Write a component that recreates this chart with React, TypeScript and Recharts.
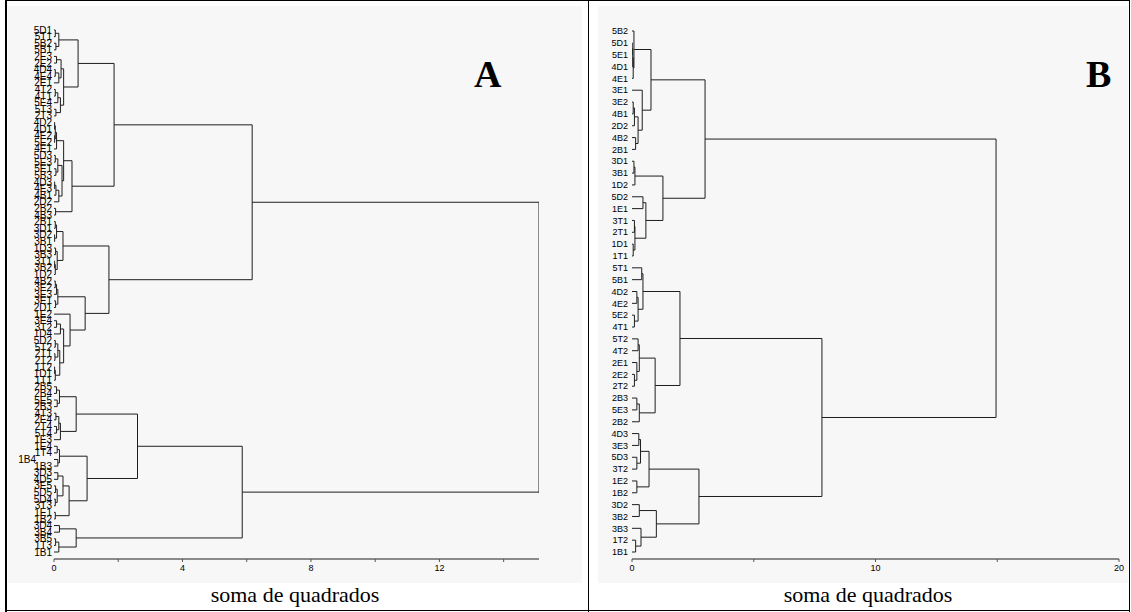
import React from "react";
import { LineChart, Line, XAxis, YAxis } from "recharts";

type Node = string | [Node, Node, number];

// panel A: clusters (leaf, leaf, height in soma de quadrados)
const a1: Node = [["5D1", "5T1", 0.04], ["5B2", "5B1", 0.06], 0.15];
const a2: Node = [
  [["2E3", "2E2", 0.08], [["4D4", "4E4", 0.04], "2E1", 0.15], 0.22],
  [[["4T2", "4T1", 0.04], "5E4", 0.12], ["5T3", "2T3", 0.06], 0.2],
  0.3,
];
const a3: Node = [
  [[["4D2", "4D1", 0.02], ["4E2", "5E2", 0.02], 0.04], "4E1", 0.08],
  [
    [["5D3", "5E3", 0.04], ["5E1", "5B3", 0.06], 0.12],
    [[["4D3", "4E3", 0.02], "4B1", 0.06], "2D2", 0.15],
    0.25,
  ],
  0.3,
];
const a4: Node = ["2B2", "4B3", 0.05];
const a5: Node = [
  [["2B1", "3D1", 0.04], ["3D2", "3B1", 0.02], 0.08],
  [["1D3", "3B3", 0.05], [["3T1", "3B2", 0.02], "1D2", 0.04], 0.1],
  0.28,
];
const a6: Node = [[["4B2", "3E2", 0.04], "3E3", 0.08], ["3E1", "2D1", 0.05], 0.12];
const a7: Node = [
  "1E2",
  [
    [["3E4", "3T2", 0.08], "1D4", 0.2],
    [
      [["5D2", "5T2", 0.04], ["2T1", "2T2", 0.03], 0.12],
      [["1T2", "1D1", 0.02], "1T1", 0.04],
      0.18,
    ],
    0.3,
  ],
  0.5,
];
const a8: Node = [
  [["2B5", "2B4", 0.08], ["5E5", "2B3", 0.1], 0.17],
  [[["4T3", "2E4", 0.06], ["2T4", "5T4", 0.08], 0.15], "1E3", 0.2],
  0.69,
];
const a9: Node = [
  [["1E4", "1T4", 0.1], ["1B4", "1B3", 0.12], 0.17],
  [
    [["3D3", "4D5", 0.12], [["3E5", "5D5", 0.05], ["5D4", "3T3", 0.04], 0.1], 0.28],
    ["1E1", "1B2", 0.04],
    0.47,
  ],
  1.03,
];
const a10: Node = [["3D4", "3B4", 0.17], [["3B5", "1T3", 0.05], "1B1", 0.15], 0.69];

const treeA: Node = [
  [
    [[a1, a2, 0.75], [a3, a4, 0.56], 1.87],
    [a5, [a6, a7, 0.97], 1.71],
    6.17,
  ],
  [[a8, a9, 2.6], a10, 5.86],
  15.1,
];

// label printed apart from the column in panel A
const shiftedA = ["1B4"];

// panel B
const b1: Node = ["5B2", [[["5D1", "5E1", 0.01], "4D1", 0.03], "4E1", 0.05], 0.08];
const b2: Node = [
  "3E1",
  [[["3E2", "4B1", 0.05], "2D2", 0.1], ["4B2", "2B1", 0.15], 0.25],
  0.42,
];
const b3: Node = [
  [["3D1", "3B1", 0.08], "1D2", 0.12],
  [["5D2", "1E1", 0.45], [["3T1", "2T1", 0.1], ["1D1", "1T1", 0.05], 0.12], 0.57],
  1.27,
];
const b4: Node = [["5T1", "5B1", 0.4], [["4D2", "4E2", 0.2], ["5E2", "4T1", 0.1], 0.25], 0.45];
const b5: Node = [
  [["5T2", "4T2", 0.25], ["2E1", ["2E2", "2T2", 0.1], 0.2], 0.3],
  [["2B3", "5E3", 0.2], "2B2", 0.3],
  0.95,
];
const b6: Node = [[["4D3", "3E3", 0.28], ["5D3", "3T2", 0.2], 0.35], ["1E2", "1B2", 0.2], 0.7];
const b7: Node = [["3D2", "3B2", 0.3], ["3B3", ["1T2", "1B1", 0.15], 0.37], 1.0];

const treeB: Node = [
  [[b1, b2, 0.78], b3, 3.0],
  [[b4, b5, 1.97], [b6, b7, 2.75], 7.8],
  14.95,
];

const ticksA = [0, 2, 4, 6, 8, 10, 12, 14];
const labelledA = [0, 4, 8, 12];
const ticksB = [0, 5, 10, 15, 20];
const labelledB = [0, 10, 20];

type Pt = { x: number; y: number };

function layout(root: Node) {
  const leaves: string[] = [];
  const links: Pt[][] = [];
  const walk = (n: Node): Pt => {
    if (typeof n === "string") {
      leaves.push(n);
      return { x: 0, y: leaves.length - 1 };
    }
    const a = walk(n[0]);
    const b = walk(n[1]);
    links.push([
      { x: a.x, y: a.y },
      { x: n[2], y: a.y },
      { x: n[2], y: b.y },
      { x: b.x, y: b.y },
    ]);
    return { x: n[2], y: (a.y + b.y) / 2 };
  };
  walk(root);
  return { leaves, links };
}

const sans = "'Liberation Sans', Arial, sans-serif";

function Dendro({
  tree,
  width,
  xMax,
  ticks,
  labelled,
  firstLeafY,
  axisY,
  axisWidth,
  rightMargin,
  labelSize,
  labelGap,
  shifted = [],
}: {
  tree: Node;
  width: number;
  xMax: number;
  ticks: number[];
  labelled: number[];
  firstLeafY: number;
  axisY: number;
  axisWidth: number;
  rightMargin: number;
  labelSize: number;
  labelGap: number;
  shifted?: string[];
}) {
  const { leaves, links } = layout(tree);
  const step = (552 - firstLeafY) / (leaves.length - 1);
  const top = firstLeafY - step;
  const yMax = (axisY - firstLeafY) / step;
  const height = 612;

  const leafTick = (p: any) => {
    const label = leaves[p.payload.value] ?? "";
    const dx = shifted.includes(label) ? -16 : 0;
    return (
      <text
        x={p.x + dx}
        y={p.y}
        dy="0.355em"
        textAnchor="end"
        fontSize={labelSize}
        fontFamily={sans}
        fill="#000"
      >
        {label}
      </text>
    );
  };

  return (
    <LineChart
      width={width}
      height={height}
      margin={{ top, right: rightMargin, bottom: height - axisY - 20, left: 0 }}
    >
      <XAxis
        type="number"
        dataKey="x"
        domain={[0, xMax]}
        allowDataOverflow
        ticks={ticks}
        interval={0}
        height={20}
        tickSize={3}
        tickMargin={3}
        stroke="#7a7a7a"
        axisLine={{ stroke: "#8a8a8a", strokeWidth: 2 }}
        tickLine={{ stroke: "#555" }}
        tick={{ fontSize: 9, fill: "#000", fontFamily: sans }}
        tickFormatter={(v: number) => (labelled.includes(v) ? String(v) : "")}
      />
      <YAxis
        type="number"
        dataKey="y"
        reversed
        domain={[-1, yMax]}
        allowDataOverflow
        ticks={leaves.map((_, i) => i)}
        interval={0}
        width={axisWidth}
        axisLine={false}
        tickLine={false}
        tickSize={0}
        tickMargin={labelGap}
        tick={leafTick}
      />
      {links.map((pts, i) => (
        <Line
          key={i}
          data={pts}
          dataKey="y"
          type="linear"
          stroke="#1e1e1e"
          strokeWidth={1}
          dot={false}
          activeDot={false}
          isAnimationActive={false}
        />
      ))}
    </LineChart>
  );
}

const serif = "'Liberation Serif', 'Times New Roman', serif";

export default function App() {
  return (
    <div
      style={{
        position: "absolute",
        left: 0,
        top: 0,
        width: 1131,
        height: 612,
        background: "#fff",
        overflow: "hidden",
      }}
    >
      <div style={{ position: "absolute", left: 8, top: 6, width: 574, height: 577, background: "#f7f7f7" }} />
      <div style={{ position: "absolute", left: 598, top: 6, width: 530, height: 577, background: "#f7f7f7" }} />
      <div style={{ position: "absolute", left: 0, top: 0 }}>
        <Dendro
          tree={treeA}
          width={588}
          xMax={15.1}
          ticks={ticksA}
          labelled={labelledA}
          firstLeafY={30}
          axisY={559}
          axisWidth={54}
          rightMargin={49}
          labelSize={10}
          labelGap={2}
          shifted={shiftedA}
        />
      </div>
      <div style={{ position: "absolute", left: 588, top: 0 }}>
        <Dendro
          tree={treeB}
          width={543}
          xMax={20}
          ticks={ticksB}
          labelled={labelledB}
          firstLeafY={31}
          axisY={559}
          axisWidth={44}
          rightMargin={12}
          labelSize={9}
          labelGap={4}
        />
      </div>
      <div style={{ position: "absolute", left: 474, top: 54, fontFamily: serif, fontWeight: "bold", fontSize: 38, lineHeight: "40px" }}>
        A
      </div>
      <div style={{ position: "absolute", left: 1086, top: 54, fontFamily: serif, fontWeight: "bold", fontSize: 38, lineHeight: "40px" }}>
        B
      </div>
      <div style={{ position: "absolute", left: 8, top: 584, width: 574, textAlign: "center", fontFamily: serif, fontSize: 22, lineHeight: "22px" }}>
        soma de quadrados
      </div>
      <div style={{ position: "absolute", left: 598, top: 584, width: 540, textAlign: "center", fontFamily: serif, fontSize: 22, lineHeight: "22px" }}>
        soma de quadrados
      </div>
      {/* frame */}
      <div style={{ position: "absolute", left: 5, top: 0, width: 2, height: 612, background: "#000" }} />
      <div style={{ position: "absolute", left: 588, top: 0, width: 1, height: 612, background: "#000" }} />
      <div style={{ position: "absolute", left: 1129, top: 0, width: 1, height: 612, background: "#000" }} />
      <div style={{ position: "absolute", left: 5, top: 0, width: 1125, height: 1, background: "#000" }} />
      <div style={{ position: "absolute", left: 5, top: 610, width: 1125, height: 1, background: "#000" }} />
    </div>
  );
}
